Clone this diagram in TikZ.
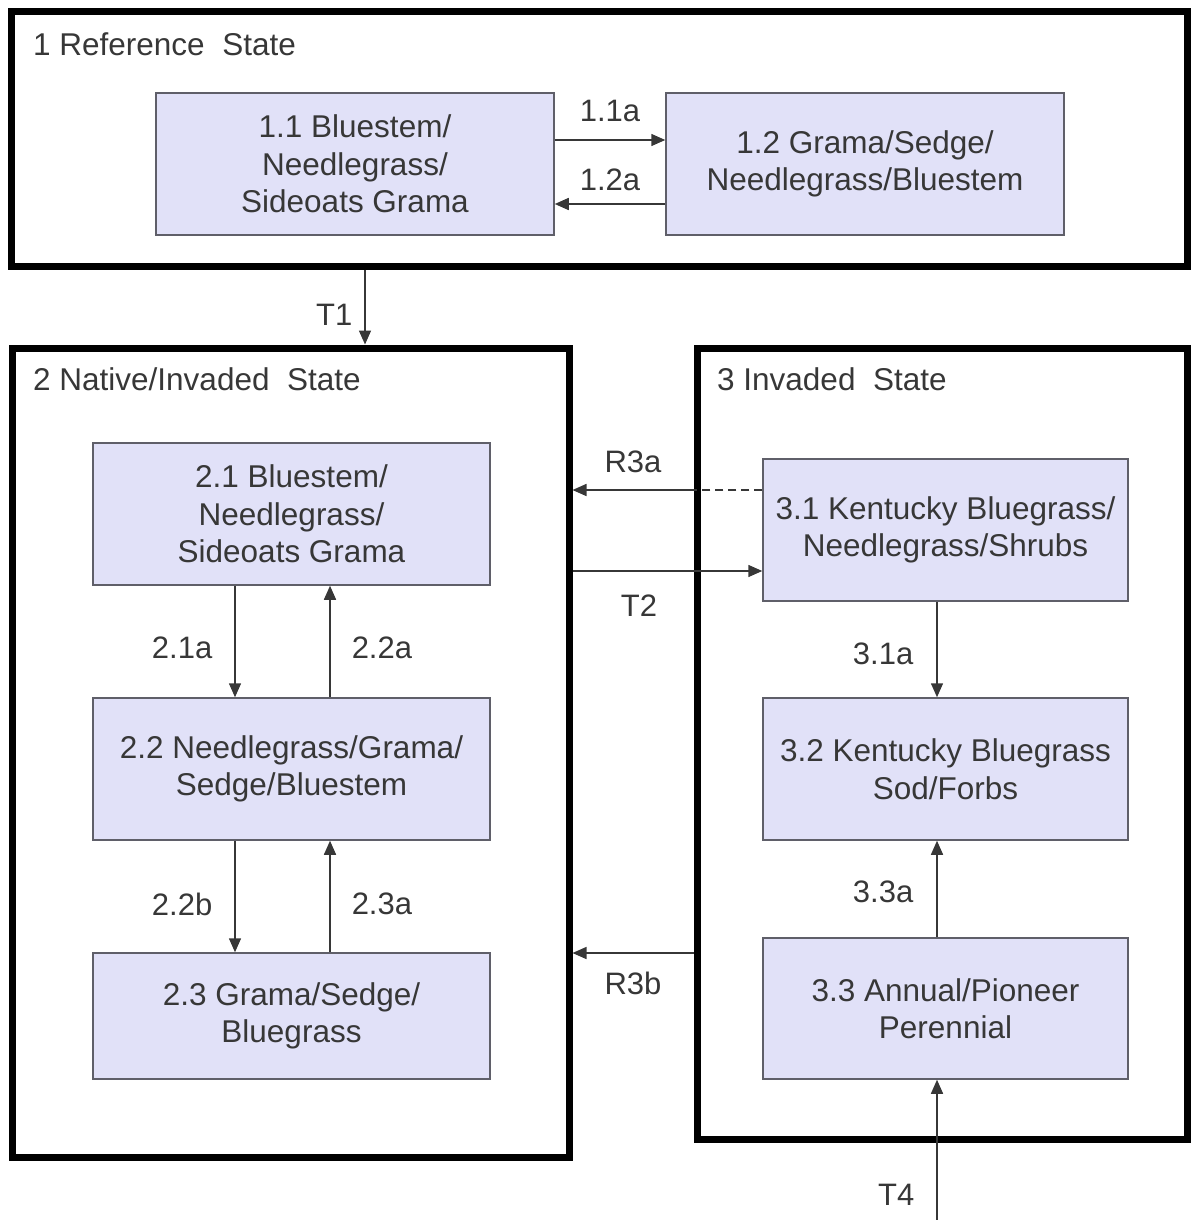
\documentclass[tikz,border=0pt]{standalone}
\usepackage{fontspec}
\setmainfont{Liberation Sans}
\usetikzlibrary{arrows.meta}
\definecolor{boxfill}{RGB}{225,225,248}
\definecolor{boxline}{RGB}{95,95,105}
\definecolor{ink}{RGB}{55,55,55}
\tikzset{ st/.style = { rectangle
                      , draw = black
                      , line width = 7pt
                      , inner sep  = 0pt
                      },
          bx/.style = { rectangle
                      , draw       = boxline
                      , fill       = boxfill
                      , line width = 1.5pt
                      , inner sep  = 0pt
                      , align      = center
                      , text       = ink
                      , font       = \fontsize{31.5}{37.5}\selectfont
                      },
         arr/.style = { draw       = ink
                      , line width = 1.5pt
                      , -{Triangle[length=14pt,width=12pt]}
                      },
         lbl/.style = { text = ink
                      , inner sep = 4pt
                      , font = \fontsize{31}{36}\selectfont
                      },
       title/.style = { text = ink
                      , inner sep = 0pt
                      , anchor = base west
                      , font = \fontsize{31.5}{36}\selectfont
                      }
        }

\begin{document}
\begin{tikzpicture}[x=1pt, y=-1pt]
    \useasboundingbox (0,0) rectangle (1191,1220);
    % states
    \node[st, minimum width=1176pt, minimum height=254pt] (s1) at (599.5,139) {};
    \node[st, minimum width=557pt,  minimum height=809pt] (s2) at (290.5,752.5) {};
    \node[st, minimum width=490pt,  minimum height=791pt] (s3) at (942,743.5) {};
    \node[title] (t1) at (33,56)  {1 Reference~ State};
    \node[title] (t2) at (33,390) {2 Native/Invaded~ State};
    \node[title] (t3) at (717,390) {3 Invaded~ State};
    % communities
    \node[bx, minimum width=398pt, minimum height=142pt] (b11) at (355,164)
        {1.1 Bluestem/\\Needlegrass/\\Sideoats Grama};
    \node[bx, minimum width=398pt, minimum height=142pt] (b12) at (865,164)
        {1.2 Grama/Sedge/\\Needlegrass/Bluestem};
    \node[bx, minimum width=397pt, minimum height=142pt] (b21) at (291.5,514)
        {2.1 Bluestem/\\Needlegrass/\\Sideoats Grama};
    \node[bx, minimum width=397pt, minimum height=142pt] (b22) at (291.5,769)
        {2.2 Needlegrass/Grama/\\Sedge/Bluestem};
    \node[bx, minimum width=397pt, minimum height=126pt] (b23) at (291.5,1016)
        {2.3 Grama/Sedge/\\Bluegrass};
    \node[bx, minimum width=365pt, minimum height=142pt] (b31) at (945.5,530)
        {3.1 Kentucky Bluegrass/\\Needlegrass/Shrubs};
    \node[bx, minimum width=365pt, minimum height=142pt] (b32) at (945.5,769)
        {3.2 Kentucky Bluegrass\\Sod/Forbs};
    \node[bx, minimum width=365pt, minimum height=141pt] (b33) at (945.5,1008.5)
        {3.3 Annual/Pioneer\\Perennial};
    \coordinate (t4) at (937,1220);
    % pathways
    \draw[arr] (b11.east |- 0,140) -- node[lbl, above=13pt] {1.1a} (b12.west |- 0,140);
    \draw[arr] (b12.west |- 0,204) -- node[lbl, above=8pt] {1.2a} (b11.east |- 0,204);
    \draw[arr] (s1.south -| 365,0) -- node[lbl, left=8pt, pos=0.6] {T1} (s2.north -| 365,0);
    \draw[arr] (b21.south -| 235,0) -- node[lbl, left=18pt, pos=0.56] {2.1a} (b22.north -| 235,0);
    \draw[arr] (b22.north -| 330,0) -- node[lbl, right=17pt, pos=0.44] {2.2a} (b21.south -| 330,0);
    \draw[arr] (b22.south -| 235,0) -- node[lbl, left=18pt, pos=0.57] {2.2b} (b23.north -| 235,0);
    \draw[arr] (b23.north -| 330,0) -- node[lbl, right=17pt, pos=0.43] {2.3a} (b22.south -| 330,0);
    \draw[arr] (b31.south -| 937,0) -- node[lbl, left=19pt, pos=0.55] {3.1a} (b32.north -| 937,0);
    \draw[arr] (b33.north -| 937,0) -- node[lbl, left=19pt, pos=0.47] {3.3a} (b32.south -| 937,0);
    \draw[draw=ink, line width=1.5pt, dash pattern=on 8pt off 5pt] (b31.west |- 0,490) -- (s3.west |- 0,490);
    \draw[arr] (s3.west |- 0,490) -- node[lbl, above=12pt] {R3a} (s2.east |- 0,490);
    \draw[arr] (s2.east |- 0,571) -- node[lbl, below=19pt, pos=0.35] {T2} (b31.west |- 0,571);
    \draw[arr] (s3.west |- 0,953) -- node[lbl, below=14pt] {R3b} (s2.east |- 0,953);
    \draw[arr] (t4) -- node[lbl, left=18pt, pos=0.18] {T4} (b33.south -| t4);
\end{tikzpicture}
\end{document}
